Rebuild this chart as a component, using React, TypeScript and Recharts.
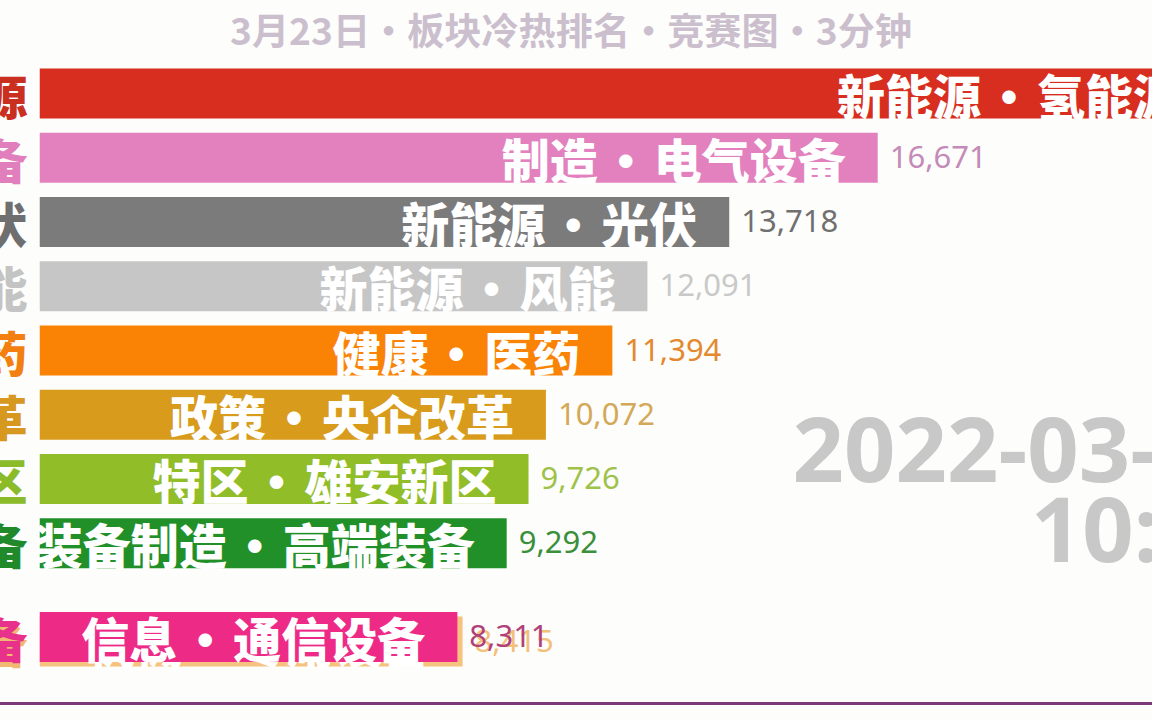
import React from 'react';
import { BarChart, Bar, XAxis, YAxis, Cell, LabelList } from 'recharts';

// ---- data ----
const sectors = ['新能源', '制造', '新能源', '新能源', '健康', '政策', '特区', '装备制造', '信息'];
const subs = ['氢能源', '电气设备', '光伏', '风能', '医药', '央企改革', '雄安新区', '高端装备', '通信设备'];
const values = [23340, 16671, 13718, 12091, 11394, 10072, 9726, 9292, 8311];
const ranks = [1, 2, 3, 4, 5, 6, 7, 8, 9.46];

const backSectors = ['机械'];
const backSubs = ['专用设备'];
const backValues = [8415];
const backRanks = [9.53];

const titleText = '3月23日•板块冷热排名•竞赛图•3分钟';
const dateLine1 = '2022-03-23';
const dateLine2 = '10:30';

// ---- styles ----
const barColors = ['#d82e1f', '#e281be', '#7b7b7b', '#c6c6c6', '#fa8306', '#d89b1c', '#90bd28', '#229028', '#ee2a87'];
const nameColors = ['#c9301f', '#e07fbc', '#6f6f6f', '#c4c4c4', '#f27f10', '#d6981e', '#8cbb2a', '#20892a', '#e8318a'];
const valueColors = ['#c9301f', '#c48ab8', '#707070', '#c9c9c9', '#e3892f', '#d3a957', '#9fc24a', '#3a8f3a', '#b0407a'];
const backBarColors = ['#f6c27f'];
const backNameColors = ['#f0b870'];
const backValueColors = ['#f2c07a'];

const CJK = '"Noto Sans CJK SC", "Noto Sans", sans-serif';
const NUM = '"Noto Sans", "Open Sans", sans-serif';

const W = 1300;
const H = 720;
const MARGIN = { top: 61.6, right: 53.8, bottom: 16.1, left: 39.5 };

const makeRenderer = (sec: string[], sub: string[], vals: number[], nameCol: string[], valCol: string[]) => (p: any) => {
  const vb = p.viewBox && p.viewBox.width !== undefined ? p.viewBox : p;
  const x = Number(vb.x);
  const y = Number(vb.y);
  const width = Number(vb.width);
  const height = Number(vb.height);
  const i = p.index;
  const cy = y + height / 2;
  return (
    <g key={`lab-${i}`}>
      <text x={x - 12} y={cy} textAnchor="end" dominantBaseline="central" fill={nameCol[i]}
        style={{ fontFamily: CJK, fontWeight: 900, fontSize: 48 }}>{sub[i]}</text>
      <text x={x + width - 32} y={cy} textAnchor="end" dominantBaseline="central" fill="#ffffff"
        style={{ fontFamily: CJK, fontWeight: 900, fontSize: 48, wordSpacing: -7 }}>{`${sec[i]} • ${sub[i]}`}</text>
      <text x={x + width + 12} y={cy - 2} textAnchor="start" dominantBaseline="central" fill={valCol[i]}
        style={{ fontFamily: NUM, fontWeight: 400, fontSize: 31 }}>{vals[i].toLocaleString('en-US')}</text>
    </g>
  );
};

function RaceChart({ sec, sub, vals, rk, colors, nameCol, valCol }: any) {
  const data = vals.map((v: number, i: number) => ({ name: sub[i], value: v, rank: rk[i] }));
  return (
    <BarChart layout="vertical" width={W} height={H} data={data} margin={MARGIN}>
      <XAxis type="number" domain={[0, 24000]} hide allowDataOverflow />
      <YAxis type="number" dataKey="rank" domain={[0.5, 10.5]} hide allowDataOverflow />
      <Bar dataKey="value" barSize={50} isAnimationActive={false}>
        {data.map((_: any, i: number) => (
          <Cell key={i} fill={colors[i]} />
        ))}
        <LabelList dataKey="name" content={makeRenderer(sec, sub, vals, nameCol, valCol)} />
      </Bar>
    </BarChart>
  );
}

export default function App() {
  return (
    <div style={{ position: 'fixed', left: 0, top: 0, width: 1152, height: 720, overflow: 'hidden', background: '#fdfdfb' }}>
      <div style={{ position: 'absolute', left: 0, top: 0 }}>
        <RaceChart sec={backSectors} sub={backSubs} vals={backValues} rk={backRanks}
          colors={backBarColors} nameCol={backNameColors} valCol={backValueColors} />
      </div>
      <div style={{ position: 'absolute', left: 0, top: 0 }}>
        <RaceChart sec={sectors} sub={subs} vals={values} rk={ranks}
          colors={barColors} nameCol={nameColors} valCol={valueColors} />
      </div>
      <svg width={1152} height={720} style={{ position: 'absolute', left: 0, top: 0, pointerEvents: 'none' }}>
        <text x={571} y={29} textAnchor="middle" dominantBaseline="central" fill="#cbbfce"
          textLength={682} lengthAdjust="spacingAndGlyphs"
          style={{ fontFamily: CJK, fontWeight: 700, fontSize: 37 }}>{titleText}</text>
        <text x={1262} y={482} textAnchor="end" fill="#c8c8c8"
          style={{ fontFamily: NUM, fontWeight: 700, fontSize: 90 }}>{dateLine1}</text>
        <text x={1262} y={562} textAnchor="end" fill="#c8c8c8"
          style={{ fontFamily: NUM, fontWeight: 700, fontSize: 90 }}>{dateLine2}</text>
        <line x1={0} x2={1152} y1={703.5} y2={703.5} stroke="#7a3a7a" strokeWidth={3} />
      </svg>
    </div>
  );
}
